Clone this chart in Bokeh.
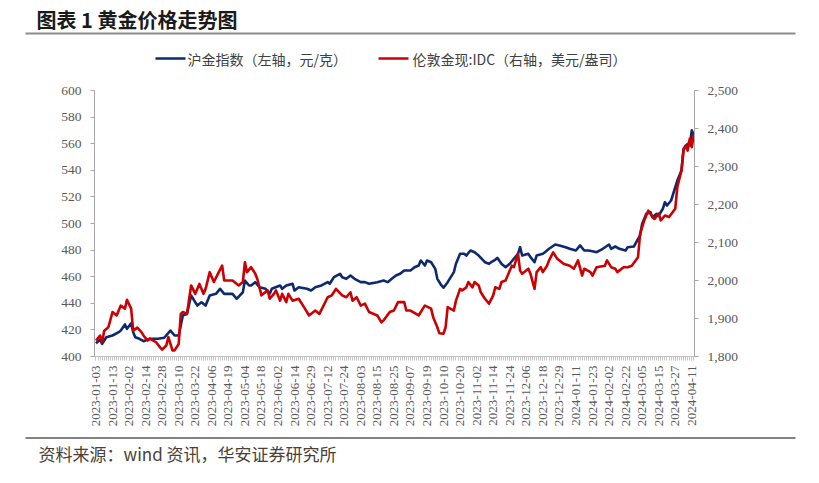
import math
from bokeh.plotting import figure
from bokeh.layouts import column
from bokeh.models import Range1d, LinearAxis, FixedTicker, NumeralTickFormatter
from bokeh.core.properties import value
from bokeh.embed import file_html
from bokeh.resources import INLINE

# ---------------- data ----------------
tick_labels = ["2023-01-03", "2023-01-13", "2023-02-02", "2023-02-14", "2023-02-28",
               "2023-03-10", "2023-03-22", "2023-04-06", "2023-04-19", "2023-05-04",
               "2023-05-18", "2023-06-02", "2023-06-14", "2023-06-29", "2023-07-12",
               "2023-07-24", "2023-08-03", "2023-08-15", "2023-08-25", "2023-09-07",
               "2023-09-19", "2023-10-10", "2023-10-20", "2023-11-02", "2023-11-14",
               "2023-11-24", "2023-12-06", "2023-12-18", "2023-12-29", "2024-01-11",
               "2024-01-23", "2024-02-02", "2024-02-22", "2024-03-05", "2024-03-15",
               "2024-03-27", "2024-04-11"]
label_step = 8  # trading days between labelled categories

# 沪金指数 (left axis, 元/克): trading-day index, value
shfe_idx = [0, 2, 3, 5, 8, 11, 12, 14, 15, 17,
            18, 19, 21, 23, 26, 30, 33, 36, 38, 40,
            42, 44, 46, 49, 51, 53, 55, 58, 60, 62,
            66, 68, 71, 72, 74, 75, 77, 79, 82, 84,
            85, 89, 90, 92, 95, 96, 98, 102, 104, 106,
            109, 112, 113, 115, 118, 119, 121, 123, 125, 128,
            130, 132, 136, 139, 141, 143, 145, 147, 149, 152,
            154, 156, 157, 159, 160, 162, 164, 165, 167, 168,
            170, 173, 174, 176, 178, 179, 181, 183, 185, 188,
            190, 191, 193, 194, 196, 198, 200, 202, 204, 205,
            206, 209, 210, 212, 213, 216, 217, 219, 222, 224,
            227, 229, 232, 234, 236, 238, 240, 242, 245, 248,
            249, 251, 253, 256, 257, 260, 263, 264, 266, 268,
            269, 271, 272, 274, 275, 276, 278, 281, 283, 284,
            286, 287, 288, 289]
shfe_val = [410.0, 412.6, 409.5, 414.5, 415.8, 418.3, 419.5, 424.1, 420.8, 425.0,
            418.3, 414.5, 413.3, 411.5, 413.3, 413.3, 414.1, 419.5, 415.8, 415.8,
            430.8, 432.1, 445.9, 438.3, 440.8, 438.3, 445.9, 447.1, 450.9, 447.1,
            447.1, 443.4, 448.3, 457.1, 453.4, 453.4, 455.9, 452.1, 450.9, 447.1,
            450.9, 453.4, 450.9, 453.4, 454.7, 449.6, 452.1, 450.9, 449.6, 452.1,
            453.4, 455.9, 454.7, 459.6, 462.2, 459.6, 458.4, 460.9, 458.4, 455.9,
            455.9, 454.7, 455.9, 457.1, 455.9, 458.4, 460.9, 462.2, 464.7, 464.7,
            467.1, 468.4, 472.2, 468.4, 472.2, 470.9, 465.9, 458.4, 453.4, 451.7,
            455.9, 463.4, 469.7, 477.2, 477.2, 475.9, 479.7, 478.4, 475.9, 470.9,
            469.7, 470.9, 472.7, 474.2, 469.7, 467.1, 469.7, 473.5, 477.2, 482.2,
            475.9, 477.2, 474.7, 470.9, 475.9, 477.2, 478.4, 481.0, 484.2, 483.5,
            482.2, 481.0, 479.7, 483.5, 479.7, 479.7, 479.2, 478.4, 481.0, 484.2,
            481.0, 482.7, 481.0, 479.7, 482.2, 482.7, 491.0, 499.8, 507.3, 508.5,
            504.7, 507.3, 506.0, 511.1, 516.0, 513.5, 517.3, 532.3, 539.9, 556.2,
            559.9, 558.7, 570.0, 566.2]

# 伦敦金现:IDC (right axis, 美元/盎司)
ldn_idx = [0, 2, 3, 4, 6, 8, 10, 12, 14, 15,
           17, 18, 20, 22, 23, 25, 26, 29, 31, 32,
           34, 35, 37, 38, 40, 41, 42, 44, 46, 48,
           50, 52, 53, 55, 57, 59, 61, 62, 66, 69,
           71, 72, 73, 75, 77, 78, 80, 83, 84, 86,
           87, 89, 90, 92, 93, 95, 98, 101, 103, 106,
           108, 110, 112, 114, 116, 119, 121, 123, 124, 126,
           128, 130, 132, 136, 138, 139, 142, 144, 146, 149,
           150, 152, 156, 158, 159, 162, 163, 165, 166, 168,
           169, 170, 173, 174, 176, 177, 179, 180, 182, 183,
           185, 186, 188, 190, 192, 193, 195, 196, 198, 199,
           201, 202, 204, 205, 206, 209, 210, 212, 213, 215,
           216, 218, 219, 221, 223, 226, 229, 231, 233, 235,
           236, 239, 240, 242, 246, 247, 249, 251, 252, 255,
           257, 259, 262, 263, 265, 267, 269, 270, 272, 273,
           275, 277, 280, 281, 283, 284, 285, 286, 287, 288,
           289]
ldn_val = [1842, 1855, 1838, 1868, 1877, 1917, 1908, 1934, 1926, 1949,
           1926, 1868, 1876, 1864, 1855, 1842, 1847, 1838, 1824, 1818,
           1829, 1851, 1816, 1816, 1833, 1912, 1917, 1912, 1987, 1965,
           1991, 1965, 1978, 2022, 1996, 2018, 2039, 2000, 2000, 1987,
           1996, 2048, 2022, 2035, 2018, 2004, 1961, 1974, 1952, 1965,
           1974, 1947, 1965, 1943, 1965, 1947, 1952, 1926, 1908, 1921,
           1912, 1934, 1956, 1961, 1978, 1961, 1956, 1969, 1947, 1956,
           1934, 1939, 1917, 1908, 1890, 1895, 1917, 1921, 1943, 1943,
           1921, 1921, 1908, 1926, 1934, 1926, 1903, 1877, 1861, 1860,
           1877, 1930, 1921, 1947, 1978, 1974, 1982, 1996, 1982, 1996,
           1987, 1969, 1952, 1939, 1961, 1982, 1978, 1996, 2000, 2013,
           2039, 2035, 2070, 2026, 2018, 2031, 2018, 1978, 2022, 2035,
           2022, 2039, 2053, 2074, 2057, 2044, 2039, 2031, 2053, 2013,
           2031, 2022, 2013, 2035, 2039, 2053, 2035, 2031, 2022, 2035,
           2035, 2039, 2061, 2123, 2158, 2184, 2167, 2162, 2176, 2158,
           2171, 2167, 2189, 2246, 2289, 2342, 2355, 2342, 2373, 2351,
           2386]

assert len(shfe_idx) == len(shfe_val)
assert len(ldn_idx) == len(ldn_val)

title_text = "图表 1 黄金价格走势图"
legend_labels = ["沪金指数（左轴，元/克）", "伦敦金现:IDC（右轴，美元/盎司）"]
source_text = "资料来源：wind 资讯，华安证券研究所"

BLUE = "#0D2A6E"
RED = "#CC0000"
AXIS = "#A6A6A6"
TICKTXT = "#595959"
CJK = "Noto Sans CJK SC"
W = 815


def blank(height):
    f = figure(width=W, height=height, output_backend="svg", toolbar_location=None,
               x_range=Range1d(0, W), y_range=Range1d(height, 0),
               min_border=0, min_border_left=0, min_border_right=0,
               min_border_top=0, min_border_bottom=0,
               x_axis_location=None, y_axis_location=None)
    f.frame_align = False
    f.outline_line_color = None
    f.xgrid.visible = False
    f.ygrid.visible = False
    return f


# ---------------- header: title + rule + legend ----------------
HEAD_H = 76
head = blank(HEAD_H)
head.text(x=[36], y=[19], text=[title_text], text_font=value(CJK),
          text_font_style="bold", text_font_size=value("20px"),
          text_color="#1A1A1A", text_baseline="middle", text_align="left")
head.segment(x0=[25], y0=[33], x1=[795], y1=[33], line_color="#8C8C8C", line_width=2)
head.segment(x0=[155, 378], y0=[58, 58], x1=[185, 408], y1=[58, 58],
             line_color=[BLUE, RED], line_width=2.6)
head.text(x=[187, 412], y=[58, 58], text=legend_labels, text_font=value(CJK),
          text_font_size=value("14px"), text_color="#404040",
          text_baseline="middle", text_align="left")

# ---------------- main chart ----------------
MAIN_H = 360            # page rows 76 .. 436
FR_L, FR_R = 94, 694    # frame edges (page x)
FR_T, FR_B = 90, 356    # frame edges (page y)
p = figure(width=W, height=MAIN_H, output_backend="svg", toolbar_location=None,
           x_range=Range1d(-0.7, 289.3), y_range=Range1d(400, 600),
           min_border_left=FR_L, min_border_right=W - FR_R,
           min_border_top=FR_T - HEAD_H, min_border_bottom=HEAD_H + MAIN_H - FR_B)
p.frame_align = False
p.extra_y_ranges = {"right": Range1d(1800, 2500)}
p.outline_line_color = None
p.xgrid.visible = False
p.ygrid.visible = False

xt = [i * label_step for i in range(len(tick_labels))]
p.xaxis.ticker = FixedTicker(ticks=xt, minor_ticks=list(range(0, 290)))
p.xaxis.major_label_overrides = {t: lab for t, lab in zip(xt, tick_labels)}
p.xaxis.major_label_orientation = math.pi / 2
p.xaxis.axis_line_color = "#BFBFBF"
p.xaxis.major_tick_line_color = "#C8C8C8"
p.xaxis.minor_tick_line_color = "#C8C8C8"
p.xaxis.major_tick_out = 4
p.xaxis.major_tick_in = 0
p.xaxis.minor_tick_out = 4
p.xaxis.minor_tick_in = 0
p.xaxis.major_label_text_font = "Liberation Serif"
p.xaxis.major_label_text_font_size = "13px"
p.xaxis.major_label_text_color = TICKTXT
p.xaxis.major_label_standoff = 5

p.yaxis.ticker = FixedTicker(ticks=list(range(400, 601, 20)))
p.yaxis.axis_line_color = AXIS
p.yaxis.major_tick_line_color = AXIS
p.yaxis.major_tick_out = 4
p.yaxis.major_tick_in = 0
p.yaxis.minor_tick_line_color = None
p.yaxis.major_label_text_font = "Liberation Serif"
p.yaxis.major_label_text_font_size = "13.5px"
p.yaxis.major_label_text_color = TICKTXT
p.yaxis.major_label_standoff = 9

ra = LinearAxis(y_range_name="right",
                ticker=FixedTicker(ticks=list(range(1800, 2501, 100))),
                formatter=NumeralTickFormatter(format="0,0"))
ra.axis_line_color = AXIS
ra.major_tick_line_color = AXIS
ra.major_tick_out = 4
ra.major_tick_in = 0
ra.minor_tick_line_color = None
ra.major_label_text_font = "Liberation Serif"
ra.major_label_text_font_size = "13.5px"
ra.major_label_text_color = TICKTXT
ra.major_label_standoff = 9
p.add_layout(ra, "right")

p.line(shfe_idx, shfe_val, line_color=BLUE, line_width=2.6, line_join="round")
p.line(ldn_idx, ldn_val, line_color=RED, line_width=2.6, line_join="round",
       y_range_name="right")

# ---------------- footer: rule + source ----------------
FOOT_H = 44
foot = blank(FOOT_H)
foot.segment(x0=[25], y0=[1.5], x1=[795], y1=[1.5], line_color="#595959", line_width=1.5)
foot.text(x=[38], y=[17], text=[source_text], text_font=value(CJK),
          text_font_size=value("17px"), text_color="#4A4036",
          text_baseline="middle", text_align="left")

layout = column(head, p, foot, spacing=0)
open("out.html", "w").write(file_html(layout, INLINE))
